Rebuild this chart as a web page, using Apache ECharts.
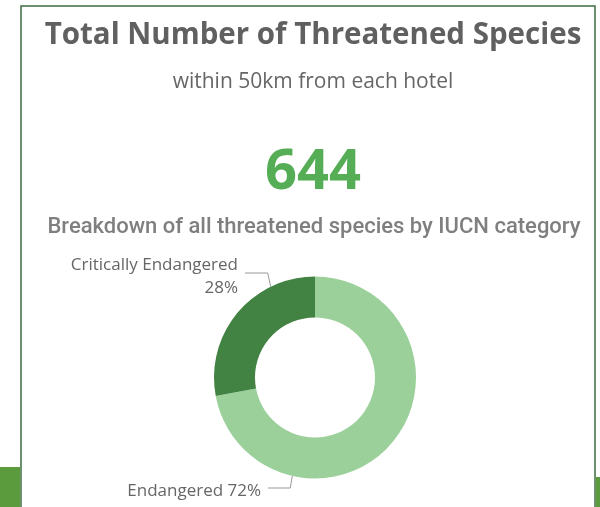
<!DOCTYPE html>
<html>
<head>
<meta charset="utf-8">
<script src="https://cdn.jsdelivr.net/npm/echarts@6/dist/echarts.min.js"></script>
<style>
  html, body { margin: 0; padding: 0; background: #ffffff; }
  #chart { width: 600px; height: 507px; }
</style>
</head>
<body>
<div id="chart"></div>
<script>
// ---- data ----
const categories = ['Endangered', 'Critically Endangered'];
const speciesCounts = [464, 180];
const titleText = 'Total Number of Threatened Species';
const subtitleText = 'within 50km from each hotel';
const breakdownText = 'Breakdown of all threatened species by IUCN category';

// ---- layout / style ----
const CX = 315, CY = 377.5, R_OUT = 101, R_IN = 60;
const colors = ['#9bd09a', '#428242'];
const total = speciesCounts.reduce((a, b) => a + b, 0);

function polar(deg, r) {
  const a = deg * Math.PI / 180;
  return [CX + r * Math.sin(a), CY - r * Math.cos(a)];
}

const chart = echarts.init(document.getElementById('chart'), null, { renderer: 'canvas' });

const option = {
  backgroundColor: '#ffffff',
  animation: false,
  graphic: [
    { type: 'rect', silent: true, z: -10, shape: { x: 0, y: 467, width: 20, height: 40 }, style: { fill: '#5b9b3d' } },
    { type: 'rect', silent: true, z: -10, shape: { x: 596, y: 477, width: 4, height: 30 }, style: { fill: '#5b9b3d' } },
    { type: 'rect', silent: true, z: -5, shape: { x: 21, y: 6, width: 574, height: 530 }, style: { fill: '#ffffff', stroke: '#3c6d40', lineWidth: 1.5 } },
    { type: 'text', silent: true, style: { x: 313, y: 36, text: titleText, textAlign: 'center', textVerticalAlign: 'middle', fill: '#606060', font: 'bold 29.5px "Open Sans"' } },
    { type: 'text', silent: true, style: { x: 313, y: 82, text: subtitleText, textAlign: 'center', textVerticalAlign: 'middle', fill: '#666666', font: '21px "Open Sans"' } },
    { type: 'text', silent: true, style: { x: 313, y: 173, text: String(total), textAlign: 'center', textVerticalAlign: 'middle', fill: '#55ad55', font: 'bold 56px "Open Sans"' } },
    { type: 'text', silent: true, style: { x: 314, y: 227, text: breakdownText, textAlign: 'center', textVerticalAlign: 'middle', fill: '#7f7f7f', font: '500 22px Roboto' } }
  ],
  series: [{
    type: 'pie',
    center: [CX, CY],
    radius: [R_IN, R_OUT],
    startAngle: 90,
    clockwise: true,
    avoidLabelOverlap: false,
    percentPrecision: 0,
    label: {
      show: true,
      position: 'outside',
      color: '#666666',
      fontFamily: '"Open Sans"',
      fontSize: 17,
      lineHeight: 23,
      align: 'right'
    },
    labelLine: { show: true, lineStyle: { color: '#999999', width: 1 } },
    labelLayout: function (p) {
      if (p.dataIndex === 0) {
        const a = polar(193, R_OUT);
        return { x: 261, y: 491, align: 'right', verticalAlign: 'middle',
                 labelLinePoints: [a, [a[0] - 2, 488], [268, 488]] };
      } else {
        const a = polar(334, R_OUT);
        return { x: 238, y: 277, align: 'right', verticalAlign: 'middle',
                 labelLinePoints: [a, [a[0] - 3, 273], [245, 273]] };
      }
    },
    data: categories.map((c, i) => ({
      name: c,
      value: speciesCounts[i],
      itemStyle: { color: colors[i] },
      label: { formatter: i === 0 ? '{b} {d}%' : '{b}\n{d}%' }
    }))
  }]
};
chart.setOption(option);
</script>
</body>
</html>
